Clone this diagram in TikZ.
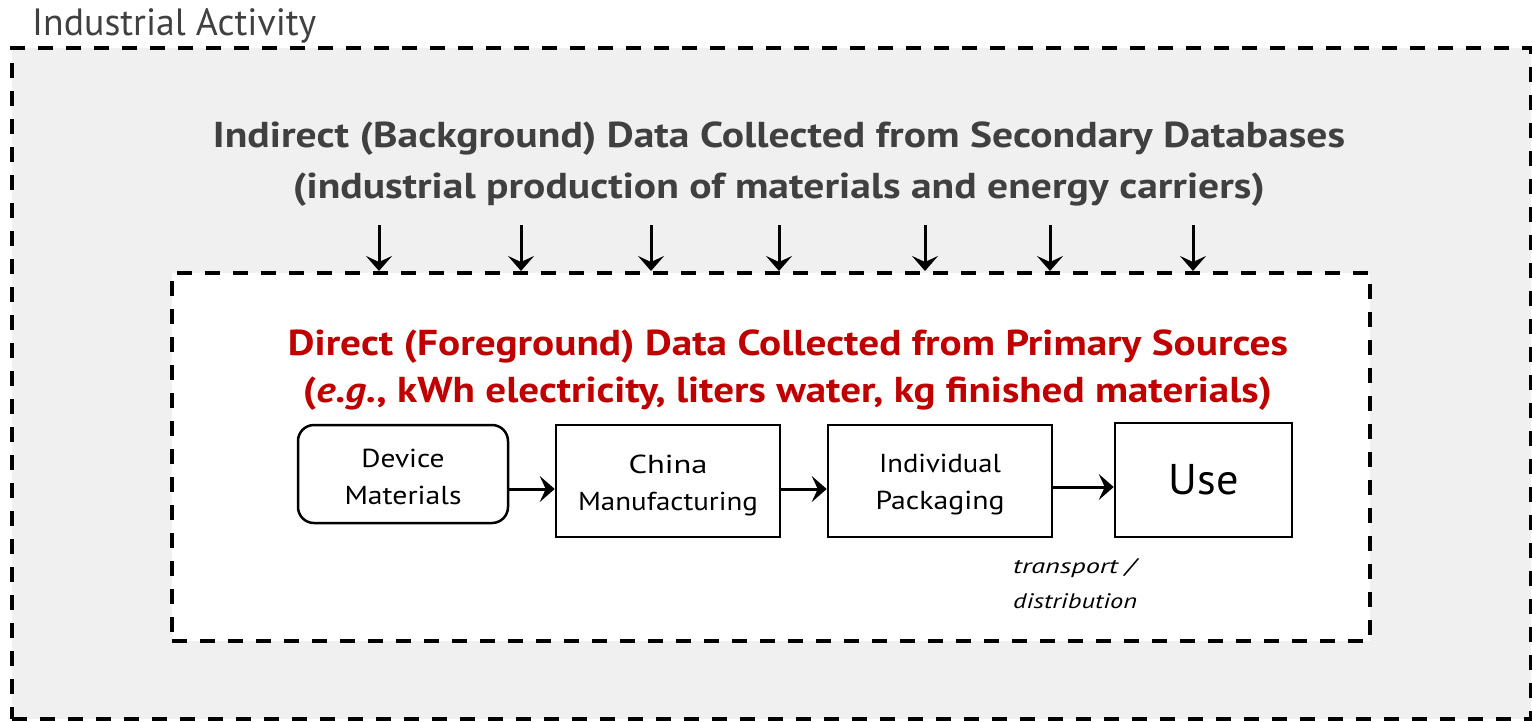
\documentclass[tikz,border=0pt]{standalone}
\usepackage{fontspec}
\usepackage{graphicx}
\setmainfont{PT Sans}
\usetikzlibrary{arrows.meta}
\definecolor{hgrey}{HTML}{404040}
\definecolor{hred}{HTML}{C00000}
\definecolor{bgfill}{HTML}{F0F0F0}
\newcommand\fitw[2]{\resizebox{#1}{\height}{#2}}
\tikzset{
  dashbox/.style={draw=black, line width=4pt, dash pattern=on 15pt off 13pt, inner sep=0pt},
  procbox/.style={draw=black, line width=2.5pt, fill=white, align=center, inner sep=0pt,
                  font=\fontsize{26}{37}\selectfont},
  arr/.style={line width=3pt, -{Stealth[length=15pt, width=26pt, inset=6pt]}},
  heading/.style={anchor=base, inner sep=0pt, font=\bfseries\fontsize{36}{40}\selectfont},
}
\begin{document}
\begin{tikzpicture}[x=1pt, y=-1pt]
\useasboundingbox (0,0) rectangle (1532,721);
% outer region
\node[dashbox, fill=bgfill, minimum width=1519pt, minimum height=671pt] (ind) at (771.5,383.5) {};
\node[anchor=base west, inner sep=0pt, text=hgrey, font=\fontsize{38}{40}\selectfont] (ttl) at (32,35) {\fitw{284pt}{Industrial Activity}};
% background headings
\node[heading, text=hgrey] (bg1) at (779,147) {\fitw{1132pt}{Indirect (Background) Data Collected from Secondary Databases}};
\node[heading, text=hgrey] (bg2) at (779,198) {\fitw{972pt}{(industrial production of materials and energy carriers)}};
% foreground region
\node[dashbox, fill=white, minimum width=1198pt, minimum height=368pt] (fg) at (771,457) {};
\node[heading, text=hred] (fg1) at (788,355) {\fitw{1000pt}{Direct (Foreground) Data Collected from Primary Sources}};
\node[heading, text=hred] (fg2) at (787.5,402) {\fitw{969pt}{(\textit{e.g.}, kWh electricity, liters water, kg finished materials)}};
% arrows from background into foreground
\foreach \i/\x in {1/379,2/521,3/651,4/779,5/925,6/1050,7/1193}{
  \coordinate (a\i) at (\x,225);
  \draw[arr] (a\i) -- (a\i |- fg.north);
}
% process boxes
\node[procbox, rounded corners=16pt, minimum width=210pt, minimum height=98pt] (dm) at (403,474)
  {\rule{0pt}{25pt}\fitw{83pt}{Device}\\\fitw{117pt}{Materials}};
\node[procbox, minimum width=224pt, minimum height=112pt] (cm) at (668,481)
  {\rule{0pt}{27pt}\fitw{79pt}{China}\\\fitw{180pt}{Manufacturing}};
\node[procbox, minimum width=224pt, minimum height=112pt] (ip) at (940,481)
  {\rule{0pt}{26pt}\fitw{122pt}{Individual}\\\fitw{129pt}{Packaging}};
\node[procbox, minimum width=177pt, minimum height=114pt, font=\fontsize{43}{45}\selectfont] (use) at (1203.5,480)
  {\fitw{70pt}{Use}};
% flow arrows
\draw[arr] (dm.east |- 0,489) -- (cm.west |- 0,489);
\draw[arr] (cm.east |- 0,489) -- (ip.west |- 0,489);
\draw[arr] (ip.east |- 0,487) -- (use.west |- 0,487);
% transport label
\node[anchor=base west, inner sep=0pt, font=\itshape\fontsize{21}{23}\selectfont] (tr1) at (1013,573) {\fitw{122pt}{transport /}};
\node[anchor=base west, inner sep=0pt, font=\itshape\fontsize{21}{23}\selectfont] (tr2) at (1013,608) {\fitw{124pt}{distribution}};
\end{tikzpicture}
\end{document}
